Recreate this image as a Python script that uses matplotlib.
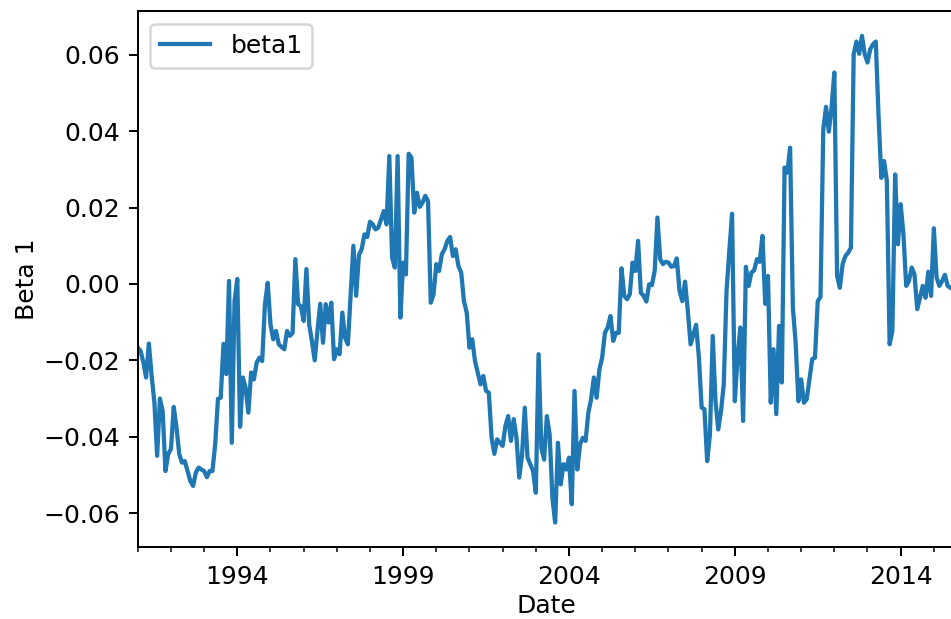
import pandas as pd
import matplotlib
matplotlib.use('Agg')
import matplotlib.pyplot as plt

# monthly beta1 estimates, one list per year (Jan..Dec)
beta1_1991 = [-0.0167, -0.0175, -0.0205, -0.0245, -0.0156, -0.0240, -0.0310, -0.0450, -0.0300, -0.0333, -0.0490, -0.0446]
beta1_1992 = [-0.0432, -0.0322, -0.0376, -0.0446, -0.0468, -0.0464, -0.0490, -0.0516, -0.0529, -0.0494, -0.0481, -0.0486]
beta1_1993 = [-0.0490, -0.0506, -0.0490, -0.0490, -0.0420, -0.0301, -0.0298, -0.0157, -0.0236, 0.0008, -0.0416, -0.0045]
beta1_1994 = [0.0013, -0.0374, -0.0245, -0.0272, -0.0337, -0.0232, -0.0250, -0.0206, -0.0193, -0.0202, -0.0053, 0.0003]
beta1_1995 = [-0.0106, -0.0145, -0.0123, -0.0158, -0.0165, -0.0171, -0.0123, -0.0136, -0.0128, 0.0065, -0.0053, -0.0058]
beta1_1996 = [-0.0097, 0.0039, -0.0106, -0.0150, -0.0200, -0.0123, -0.0052, -0.0154, -0.0053, -0.0101, -0.0049, -0.0197]
beta1_1997 = [-0.0171, -0.0184, -0.0075, -0.0141, -0.0158, -0.0030, 0.0100, -0.0031, 0.0076, 0.0091, 0.0130, 0.0123]
beta1_1998 = [0.0163, 0.0156, 0.0143, 0.0148, 0.0169, 0.0191, 0.0156, 0.0335, 0.0069, 0.0043, 0.0335, -0.0088]
beta1_1999 = [0.0056, 0.0025, 0.0341, 0.0331, 0.0187, 0.0239, 0.0202, 0.0213, 0.0231, 0.0217, -0.0049, -0.0027]
beta1_2000 = [0.0052, 0.0034, 0.0078, 0.0091, 0.0113, 0.0123, 0.0073, 0.0091, 0.0047, 0.0030, -0.0045, -0.0075]
beta1_2001 = [-0.0167, -0.0145, -0.0202, -0.0232, -0.0263, -0.0241, -0.0280, -0.0285, -0.0403, -0.0445, -0.0407, -0.0416]
beta1_2002 = [-0.0424, -0.0372, -0.0346, -0.0411, -0.0354, -0.0403, -0.0507, -0.0450, -0.0324, -0.0455, -0.0472, -0.0490]
beta1_2003 = [-0.0547, -0.0184, -0.0429, -0.0460, -0.0346, -0.0394, -0.0560, -0.0625, -0.0416, -0.0525, -0.0472, -0.0486]
beta1_2004 = [-0.0455, -0.0577, -0.0280, -0.0486, -0.0420, -0.0403, -0.0411, -0.0337, -0.0302, -0.0245, -0.0298, -0.0224]
beta1_2005 = [-0.0193, -0.0128, -0.0114, -0.0084, -0.0149, -0.0128, -0.0128, 0.0041, -0.0031, -0.0040, -0.0027, 0.0056]
beta1_2006 = [0.0034, 0.0113, -0.0023, -0.0031, -0.0046, -0.0001, -0.0003, 0.0034, 0.0174, 0.0065, 0.0052, 0.0058]
beta1_2007 = [0.0056, 0.0045, 0.0047, 0.0067, -0.0018, -0.0045, 0.0006, -0.0071, -0.0158, -0.0132, -0.0107, -0.0193]
beta1_2008 = [-0.0324, -0.0328, -0.0464, -0.0394, -0.0136, -0.0307, -0.0381, -0.0333, -0.0263, -0.0018, 0.0086, 0.0184]
beta1_2009 = [-0.0307, -0.0190, -0.0114, -0.0359, 0.0045, -0.0005, 0.0030, 0.0036, 0.0065, 0.0058, 0.0126, -0.0052]
beta1_2010 = [0.0021, -0.0311, -0.0171, -0.0341, -0.0110, -0.0258, 0.0305, 0.0292, 0.0357, -0.0062, -0.0154, -0.0307]
beta1_2011 = [-0.0250, -0.0311, -0.0302, -0.0250, -0.0197, -0.0193, -0.0045, -0.0034, 0.0405, 0.0464, 0.0399, 0.0462]
beta1_2012 = [0.0554, 0.0021, -0.0010, 0.0052, 0.0073, 0.0082, 0.0095, 0.0602, 0.0635, 0.0603, 0.0650, 0.0602]
beta1_2013 = [0.0580, 0.0615, 0.0628, 0.0635, 0.0440, 0.0278, 0.0322, 0.0270, -0.0158, -0.0123, 0.0287, 0.0104]
beta1_2014 = [0.0209, 0.0130, -0.0005, 0.0008, 0.0043, 0.0025, -0.0066, -0.0036, -0.0005, -0.0036, 0.0032, -0.0031]
beta1_2015 = [0.0146, 0.0017, -0.0005, 0.0008, 0.0024, -0.0005, -0.0010]

beta1 = (beta1_1991 + beta1_1992 + beta1_1993 + beta1_1994 + beta1_1995
         + beta1_1996 + beta1_1997 + beta1_1998 + beta1_1999 + beta1_2000
         + beta1_2001 + beta1_2002 + beta1_2003 + beta1_2004 + beta1_2005
         + beta1_2006 + beta1_2007 + beta1_2008 + beta1_2009 + beta1_2010
         + beta1_2011 + beta1_2012 + beta1_2013 + beta1_2014 + beta1_2015)

dates = pd.date_range('1991-01-01', periods=len(beta1), freq='MS')
df = pd.DataFrame({'beta1': beta1}, index=pd.Index(dates, name='Date'))

DPI = 180
fig = plt.figure(figsize=(951 / DPI, 619 / DPI), dpi=DPI)
ax = fig.add_axes([0.1449, 0.1163, 0.8603, 0.8659])
df.plot(ax=ax, lw=1.7)

# let the axes run a little past the last month
left, _ = ax.get_xlim()
ax.set_xlim(left, left + 296)
ax.set_ylim(-0.0689, 0.0715)
ax.set_xlabel('Date', labelpad=2)
ax.set_ylabel('Beta 1', labelpad=2)
ax.legend(loc='upper left')

fig.savefig('out.png', dpi=DPI)
plt.close(fig)
